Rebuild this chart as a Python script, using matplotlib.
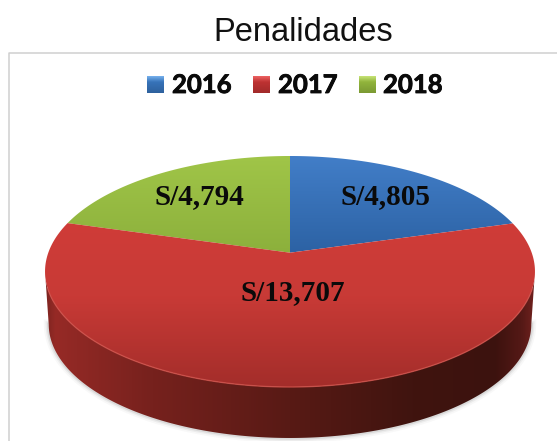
import numpy as np
import matplotlib
matplotlib.use("Agg")
import matplotlib.pyplot as plt
import matplotlib.patheffects as pe
from matplotlib.patches import Polygon, Rectangle
from matplotlib.colors import LinearSegmentedColormap

title = "Penalidades"
years = ["2016", "2017", "2018"]
values = [4805, 13707, 4794]
labels = ["S/4,805", "S/13,707", "S/4,794"]

W, H = 557, 441
fig = plt.figure(figsize=(W / 100, H / 100), dpi=100, facecolor="white")
ax = fig.add_axes([0, 0, 1, 1])
ax.set_xlim(0, W)
ax.set_ylim(H, 0)
ax.axis("off")

# projected (perspective) disc
CX, APEX_Y, TOP_Y, BOT_Y, S = 290.0, 252.7, 156.0, 387.0, 241.7
c = (TOP_Y + BOT_Y - 2 * APEX_Y) / (BOT_Y - TOP_Y)
a = TOP_Y * (1 + c) - APEX_Y
DEPTH, SHRINK = 53.0, 0.985


def proj(theta, r=1.0, drop=0.0, shrink=1.0):
    """theta measured clockwise from 12 o'clock, radians."""
    u, v = r * np.sin(theta), r * np.cos(theta)
    d = 1 + c * v
    x = CX + shrink * S * u / d
    y = (a * v + APEX_Y) / d
    y = APEX_Y + (y - APEX_Y) * shrink + drop
    return x, y


def gradient(extent, stops, horizontal, clip, z):
    n = 256
    cmap = LinearSegmentedColormap.from_list(
        "g", [(p, tuple(q / 255 for q in col)) for p, col in stops])
    g = np.linspace(0, 1, n)
    g = g[None, :] if horizontal else g[:, None]
    im = ax.imshow(g, extent=extent, cmap=cmap, vmin=0, vmax=1,
                   aspect="auto", origin="upper", zorder=z, interpolation="bilinear")
    im.set_clip_path(clip)
    return im


# frame
ax.plot([8.5, 8.5, W], [H, 52.5, 52.5], color="#cfcfcf", lw=1.1, zorder=1,
        solid_capstyle="butt")

# side wall
t_ext = np.arccos(-c)
front = np.linspace(t_ext, 2 * np.pi - t_ext, 400)
tx, ty = proj(front)
bx, by = proj(front, drop=DEPTH, shrink=SHRINK)
wall_xy = np.column_stack([np.r_[tx, bx[::-1]], np.r_[ty, by[::-1]]])
for lw, al in [(7, 0.04), (4.5, 0.07), (2.5, 0.12)]:
    ax.plot(bx, by, color="#555555", lw=lw, alpha=al, zorder=2)
wall = Polygon(wall_xy, closed=True, fc="none", ec="none", zorder=3)
ax.add_patch(wall)
wall_w = [45, 535]
stops = [(0.0, (125, 36, 32)), (0.02, (150, 42, 38)), (0.22, (118, 33, 29)),
         (0.5, (88, 26, 21)), (0.75, (64, 20, 15)), (0.92, (60, 18, 14)),
         (0.975, (85, 25, 22)), (1.0, (112, 33, 30))]
gradient([wall_w[0], wall_w[1], 441, 250], stops, True, wall, 3)

# top-face slices
fracs = np.array(values, float) / sum(values)
edges = np.r_[0, np.cumsum(fracs)] * 2 * np.pi
grads = [
    ([(0, (66, 126, 200)), (1, (44, 98, 164))], 156, 253),
    ([(0, (207, 60, 56)), (0.45, (200, 58, 54)), (1, (163, 45, 42))], 222, 388),
    ([(0, (160, 197, 72)), (1, (140, 176, 60))], 156, 253),
]
for i in range(3):
    th = np.linspace(edges[i], edges[i + 1], 200)
    x, y = proj(th)
    xy = np.column_stack([np.r_[CX, x], np.r_[APEX_Y, y]])
    p = Polygon(xy, closed=True, fc="none", ec="none", zorder=4)
    ax.add_patch(p)
    st, y0, y1 = grads[i]
    gradient([40, 540, y1, y0], st, False, p, 4 + (0 if i != 1 else 0.1))

# front highlight
hx, hy = proj(np.linspace(np.pi * 0.6, np.pi * 1.4, 300))
ax.plot(hx, hy, color="#cf5049", lw=1.0, alpha=0.8, zorder=5)

# slice labels
label_pos = [(386, 197), (293, 293), (199, 197)]
for s, (lx, ly) in zip(labels, label_pos):
    ax.text(lx, ly, s, family="Liberation Serif", weight="bold", fontsize=21,
            ha="center", va="center", color="#0a0a0a", zorder=6)

# title
ax.text(303, 32.5, title, family="Liberation Sans", fontsize=23.5,
        ha="center", va="center", color="#111111", zorder=6)

# legend
sq = [147, 253, 359]
tx_pos = [172, 278, 383]
base = [(55, 115, 185), (190, 50, 50), (145, 180, 60)]
light = [(120, 178, 238), (238, 100, 100), (200, 228, 120)]
for i, y in enumerate(years):
    r = Rectangle((sq[i], 76), 17, 17, fc="none", ec="none", zorder=6)
    ax.add_patch(r)
    gradient([sq[i], sq[i] + 17, 93, 76],
             [(0, light[i]), (0.35, base[i]), (1, tuple(int(q * 0.85) for q in base[i]))],
             False, r, 6)
    t = ax.text(tx_pos[i], 85, y, family="Lato", weight="bold", fontsize=18.5,
                ha="left", va="center", color="#0a0a0a", zorder=7)
    t.set_path_effects([pe.withStroke(linewidth=0.6, foreground="#0a0a0a")])

ax.set_xlim(0, W)
ax.set_ylim(H, 0)
fig.savefig("out.png", dpi=100)
